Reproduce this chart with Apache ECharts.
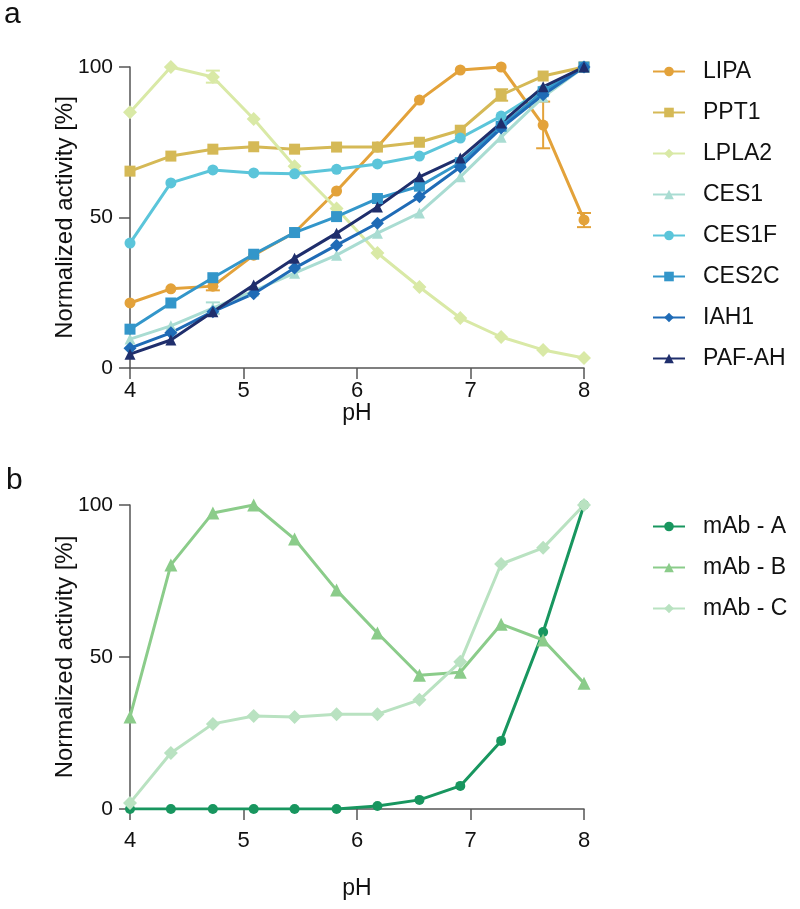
<!DOCTYPE html>
<html>
<head>
<meta charset="utf-8">
<script src="https://cdn.jsdelivr.net/npm/echarts@6/dist/echarts.min.js"></script>
<style>html,body{margin:0;padding:0;background:#fff}#c{width:800px;height:909px}</style>
</head>
<body>
<div id="c"></div>
<script>
const pH = [4, 4.36, 4.73, 5.09, 5.45, 5.82, 6.18, 6.55, 6.91, 7.27, 7.64, 8];
const xTicks = [4, 5, 6, 7, 8];
const yTicks = [0, 50, 100];

// Panel a
const LIPA   = [21.6, 26.3, 27.2, 37.5, 45.0, 58.8, 73.4, 89.0, 99.0, 100, 80.7, 49.2];
const PPT1   = [65.4, 70.4, 72.7, 73.5, 72.7, 73.4, 73.4, 75.0, 79.0, 90.7, 97.0, 100];
const LPLA2  = [85.0, 100, 96.7, 82.7, 67.0, 53.0, 38.2, 26.9, 16.6, 10.3, 6.0, 3.3];
const CES1   = [9.6, 14.0, 19.9, 25.6, 31.5, 37.5, 44.8, 51.5, 63.5, 76.7, 90.0, 100];
const CES1F  = [41.5, 61.5, 65.8, 64.8, 64.5, 66.0, 67.8, 70.4, 76.4, 83.7, 92.4, 100];
const CES2C  = [12.9, 21.6, 30.0, 37.8, 45.0, 50.3, 56.3, 60.4, 68.2, 80.3, 91.8, 100];
const IAH1   = [6.6, 11.7, 18.7, 24.7, 33.2, 40.8, 48.1, 56.9, 66.8, 79.7, 90.8, 100];
const PAFAH  = [4.6, 9.3, 18.7, 27.6, 36.5, 44.8, 53.5, 63.5, 69.8, 81.4, 93.4, 100];

// Panel b
const mAbA = [0, 0, 0, 0, 0, 0, 1.0, 3.0, 7.6, 22.4, 58.2, 100];
const mAbB = [30.3, 80.3, 97.4, 100, 88.8, 72.0, 57.9, 44.0, 45.0, 60.8, 55.6, 41.4];
const mAbC = [2.0, 18.4, 28.0, 30.6, 30.3, 31.2, 31.2, 35.9, 48.4, 80.6, 85.9, 100];

// error bars: [series, pH index, low, high]
const errBars = [
  ['LIPA', 2, 25.8, 28.8],
  ['LIPA', 10, 73.0, 88.5],
  ['LIPA', 11, 46.8, 51.5],
  ['LPLA2', 2, 94.8, 98.8],
  ['PPT1', 9, 88.8, 92.6],
  ['CES1', 2, 18.0, 21.8]
];

const colors = {
  'LIPA': '#E3A23A', 'PPT1': '#D5B956', 'LPLA2': '#D9E9A6', 'CES1': '#A9DCD2',
  'CES1F': '#5BC5DA', 'CES2C': '#3396CA', 'IAH1': '#1F6BB6', 'PAF-AH': '#1F2E6C',
  'mAb - A': '#18965F', 'mAb - B': '#8BCC8A', 'mAb - C': '#B9E2C1'
};

const seriesA = [
  ['LIPA', LIPA, 'circle', 11],
  ['PPT1', PPT1, 'rect', 11],
  ['LPLA2', LPLA2, 'diamond', 14],
  ['CES1', CES1, 'triangle', 11],
  ['CES1F', CES1F, 'circle', 11],
  ['CES2C', CES2C, 'rect', 11],
  ['IAH1', IAH1, 'diamond', 13],
  ['PAF-AH', PAFAH, 'triangle', 11]
];
const seriesB = [
  ['mAb - A', mAbA, 'circle', 10],
  ['mAb - B', mAbB, 'triangle', 13],
  ['mAb - C', mAbC, 'diamond', 14]
];

const font = 'Liberation Sans, Arial, sans-serif';

function xAxis(gi, labelMargin, nameGap) {
  return {
    type: 'value', gridIndex: gi, min: 4, max: 8, interval: 1,
    name: 'pH', nameLocation: 'middle', nameGap: nameGap, nameMoveOverlap: false,
    nameTextStyle: {fontSize: 23, color: '#111', fontFamily: font},
    axisLine: {show: true, onZero: false, lineStyle: {color: '#555', width: 1.5}},
    axisTick: {show: true, length: 11, lineStyle: {color: '#555', width: 1.5}},
    axisLabel: {fontSize: 22, color: '#111', margin: labelMargin, fontFamily: font,
      formatter: v => xTicks.includes(v) ? String(v) : ''},
    splitLine: {show: false}
  };
}
function yAxis(gi) {
  return {
    type: 'value', gridIndex: gi, min: 0, max: 100, interval: 50,
    name: 'Normalized activity [%]', nameLocation: 'middle', nameGap: 53, nameMoveOverlap: false,
    nameTextStyle: {fontSize: 24, color: '#111', fontFamily: font},
    axisLine: {show: true, lineStyle: {color: '#555', width: 1.5}},
    axisTick: {show: true, length: 11, lineStyle: {color: '#555', width: 1.5}},
    axisLabel: {fontSize: 21, color: '#111', margin: 17, fontFamily: font,
      formatter: v => yTicks.includes(v) ? String(v) : ''},
    splitLine: {show: false}
  };
}

const series = [];
function addLines(list, xi, yi) {
  list.forEach(([name, vals, sym, size]) => {
    series.push({
      name: name, type: 'line', xAxisIndex: xi, yAxisIndex: yi,
      data: pH.map((x, i) => [x, vals[i]]),
      symbol: sym, symbolSize: size, showAllSymbol: true,
      lineStyle: {width: 3, color: colors[name]},
      itemStyle: {color: colors[name]},
      emphasis: {disabled: true}, animation: false, z: 3
    });
  });
}
addLines(seriesA, 0, 0);
addLines(seriesB, 1, 1);

series.push({
  type: 'custom', xAxisIndex: 0, yAxisIndex: 0, animation: false, z: 2,
  data: errBars.map(e => [pH[e[1]], e[2], e[3], e[0]]),
  renderItem: function (params, api) {
    const x = api.value(0);
    const lo = api.coord([x, api.value(1)]);
    const hi = api.coord([x, api.value(2)]);
    const name = errBars[params.dataIndex][0];
    const c = colors[name];
    const w = 7;
    return {
      type: 'group',
      children: [
        {type: 'line', shape: {x1: lo[0], y1: lo[1], x2: hi[0], y2: hi[1]}, style: {stroke: c, lineWidth: 2}},
        {type: 'line', shape: {x1: lo[0] - w, y1: lo[1], x2: lo[0] + w, y2: lo[1]}, style: {stroke: c, lineWidth: 2}},
        {type: 'line', shape: {x1: hi[0] - w, y1: hi[1], x2: hi[0] + w, y2: hi[1]}, style: {stroke: c, lineWidth: 2}}
      ]
    };
  }
});

const legendBase = {
  orient: 'vertical', itemWidth: 32, itemHeight: 12, itemGap: 18, padding: 0,
  textStyle: {fontSize: 23, color: '#111', fontFamily: font, padding: [0, 0, 0, 13]},
  selectedMode: false
};

const chart = echarts.init(document.getElementById('c'), null, {renderer: 'canvas'});
chart.setOption({
  backgroundColor: '#fff',
  animation: false,
  grid: [
    {left: 130, top: 67, width: 454, height: 301},
    {left: 130, top: 505, width: 454, height: 304}
  ],
  xAxis: [xAxis(0, 12, 34), xAxis(1, 21, 68)],
  yAxis: [yAxis(0), yAxis(1)],
  legend: [
    Object.assign({}, legendBase, {left: 652, top: 60, data: seriesA.map(s => s[0])}),
    Object.assign({}, legendBase, {left: 652, top: 515, data: seriesB.map(s => s[0])})
  ],
  graphic: [
    {type: 'text', left: 4, top: 0, style: {text: 'a', fontSize: 30, fill: '#111', fontFamily: font}},
    {type: 'text', left: 6, top: 466, style: {text: 'b', fontSize: 30, fill: '#111', fontFamily: font}}
  ],
  series: series
});
</script>
</body>
</html>
